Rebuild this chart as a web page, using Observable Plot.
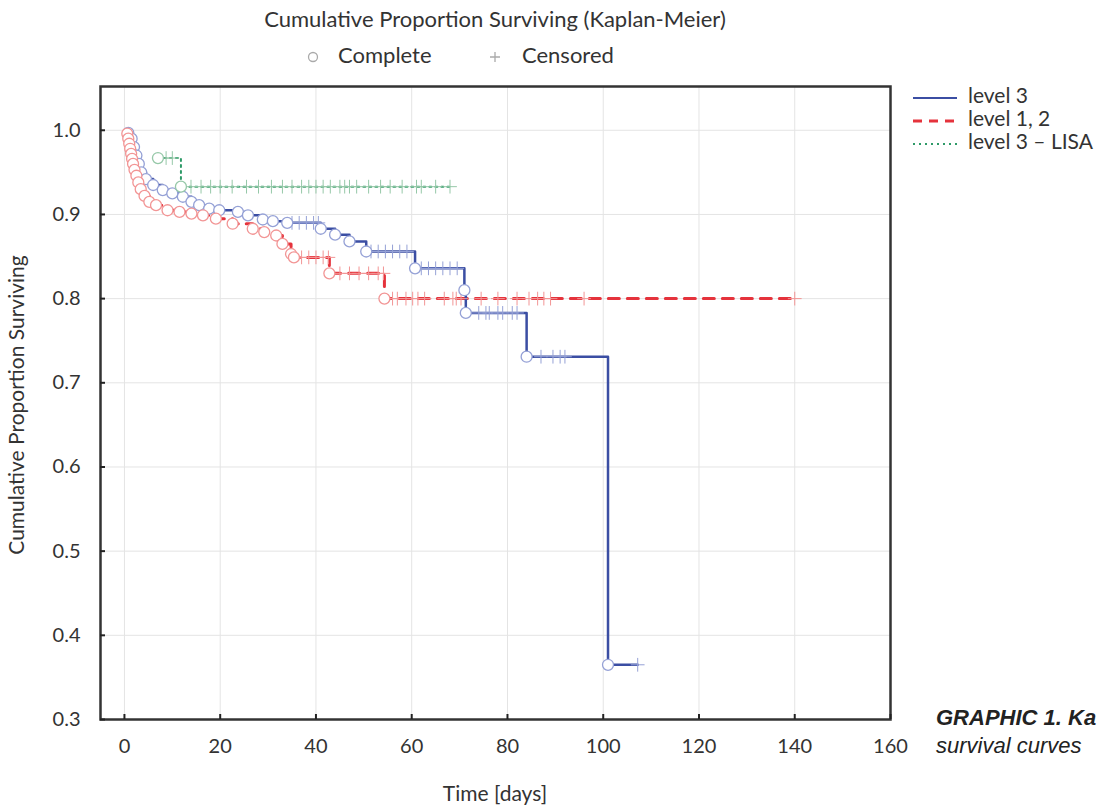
<!DOCTYPE html>
<html><head><meta charset="utf-8">
<script src="https://cdn.jsdelivr.net/npm/d3@7"></script>
<script src="https://cdn.jsdelivr.net/npm/@observablehq/plot@0.6"></script>
<style>
body{margin:0;background:#fff;}
#chart{position:relative;width:1097px;height:809px;overflow:hidden;}
</style></head><body><div id="chart"></div>
<script>
// ---- data ----
const xTicks = [0, 20, 40, 60, 80, 100, 120, 140, 160];
const yTicks = [0.3, 0.4, 0.5, 0.6, 0.7, 0.8, 0.9, 1.0];
const seriesNames = ["level 3", "level 1, 2", "level 3 \u2013 LISA"];

// level 3 (blue, solid): event times and survival after each event
const level3Time = [0.8, 1.5, 2, 2.5, 3, 3.5, 4.5, 6, 8, 10, 12.2, 14, 15.6, 17.7, 19.8, 23.7, 25.8, 28.9, 31, 34, 41, 44, 47, 50.5, 60.7, 71, 71.3, 84, 101];
const level3Surv = [0.997, 0.99, 0.98, 0.97, 0.96, 0.95, 0.942, 0.935, 0.929, 0.925, 0.921, 0.915, 0.911, 0.907, 0.905, 0.903, 0.899, 0.894, 0.892, 0.89, 0.883, 0.876, 0.868, 0.856, 0.836, 0.81, 0.783, 0.731, 0.365];
const level3Censored = [35, 36.5, 38, 39.5, 40.5, 51.5, 53, 54.5, 56, 57.5, 59, 62, 63.5, 65, 66.5, 68, 69.5, 74, 75.5, 76.2, 78, 79, 81, 82, 87, 89.5, 91, 92, 107.2];

// level 1, 2 (red, dashed)
const level12Time = [0.6, 0.8, 1.0, 1.2, 1.4, 1.6, 1.8, 2.1, 2.5, 2.9, 3.4, 4.2, 5.2, 6.6, 9, 11.5, 14, 16.4, 19.1, 22.6, 26.8, 29.2, 31.7, 33, 34.8, 35.4, 42.8, 54.3];
const level12Surv = [0.996, 0.99, 0.984, 0.978, 0.972, 0.966, 0.96, 0.953, 0.946, 0.938, 0.93, 0.922, 0.915, 0.911, 0.905, 0.903, 0.901, 0.899, 0.895, 0.889, 0.883, 0.879, 0.875, 0.865, 0.853, 0.849, 0.83, 0.8];
const level12Censored = [37, 38.5, 40, 41.5, 42.6, 45, 47, 49, 51, 53, 54.1, 56, 57, 58.8, 60.2, 61.3, 62.7, 66.8, 68.6, 69.3, 70.3, 74.5, 78, 82, 84.5, 86.3, 87.6, 89, 96, 140];

// level 3 – LISA (green, dotted)
const lisaTime = [7, 11.8];
const lisaSurv = [0.967, 0.933];
const lisaCensored = [8.7, 10, 13.9, 16, 18, 20, 22.5, 25.5, 28, 30.7, 33, 35, 37, 38.5, 40, 41.5, 43, 45, 46, 47, 48.5, 51, 53.5, 55.5, 58, 61, 62, 65, 68];

// ---- build tables ----
function build(name, times, survs, censored) {
  const end = Math.max(times[times.length - 1], d3.max(censored));
  const line = times.map((t, i) => ({series: name, t, s: survs[i]}));
  line.push({series: name, t: end, s: survs[survs.length - 1]});
  const events = times.map((t, i) => ({series: name, t, s: survs[i]}));
  const bis = d3.bisector(d => d).right;
  const cens = censored.map(c => {
    const i = bis(times, c) - 1;
    return {series: name, t: c, s: i >= 0 ? survs[i] : 1};
  });
  return {line, events, cens};
}
const S3 = build(seriesNames[0], level3Time, level3Surv, level3Censored);
const S12 = build(seriesNames[1], level12Time, level12Surv, level12Censored);
const SL = build(seriesNames[2], lisaTime, lisaSurv, lisaCensored);

const colors = {line: ["#3b4ea3", "#e5333c", "#2e9a68"], light: ["#95a1d6", "#f29595", "#96c8a8"]};

const W = 1097, H = 809, mL = 100, mR = 207, mT = 86, mB = 90;
const pw = W - mL - mR, ph = H - mT - mB;
const FONT = "Lato, 'Open Sans', sans-serif";

const chart = Plot.plot({
  width: W, height: H,
  marginLeft: mL, marginRight: mR, marginTop: mT, marginBottom: mB,
  style: {fontFamily: FONT, background: "#fff", overflow: "hidden"},
  x: {domain: [-5, 160]},
  y: {domain: [0.3, 1.052]},
  marks: [
    Plot.gridX(xTicks, {stroke: "#e4e4e4", strokeOpacity: 1}),
    Plot.gridY(yTicks, {stroke: "#e4e4e4", strokeOpacity: 1}),
    Plot.line(S12.line, {x: "t", y: "s", curve: "step-after", stroke: colors.line[1], strokeWidth: 3, strokeDasharray: "11,8"}),
    Plot.line(SL.line, {x: "t", y: "s", curve: "step-after", stroke: colors.line[2], strokeWidth: 2, strokeDasharray: "2,4"}),
    Plot.line(S3.line, {x: "t", y: "s", curve: "step-after", stroke: colors.line[0], strokeWidth: 2.5}),
    Plot.dot(S3.cens, {x: "t", y: "s", symbol: "plus", r: 4.5, stroke: colors.light[0], strokeWidth: 1}),
    Plot.dot(S12.cens, {x: "t", y: "s", symbol: "plus", r: 4.5, stroke: colors.light[1], strokeWidth: 1}),
    Plot.dot(SL.cens, {x: "t", y: "s", symbol: "plus", r: 4.5, stroke: colors.light[2], strokeWidth: 1}),
    Plot.dot(S3.events, {x: "t", y: "s", r: 5.5, stroke: colors.light[0], fill: "white", strokeWidth: 1.3}),
    Plot.dot(S12.events, {x: "t", y: "s", r: 5.5, stroke: colors.light[1], fill: "white", strokeWidth: 1.3}),
    Plot.dot(SL.events, {x: "t", y: "s", r: 5.5, stroke: colors.light[2], fill: "white", strokeWidth: 1.3}),
    Plot.frame({stroke: "#333", strokeWidth: 2.5}),
    Plot.tickX(xTicks, {x: d => d, insetTop: ph - 5, stroke: "#222", strokeWidth: 2}),
    Plot.tickY(yTicks, {y: d => d, insetRight: pw - 5, stroke: "#222", strokeWidth: 2}),
    Plot.axisX(xTicks, {tickSize: 0, tickPadding: 19, fontSize: 20, label: null, color: "#333"}),
    Plot.axisY(yTicks, {tickSize: 0, tickPadding: 20, fontSize: 20, label: null, color: "#333", tickFormat: d3.format(".1f")})
  ]
});
document.getElementById("chart").appendChild(chart);

// ---- annotations ----
const svg = d3.select(chart);
const g = svg.append("g").attr("font-family", FONT).attr("fill", "#333").attr("text-anchor", "start");
g.append("text").attr("x", 495).attr("y", 21).attr("text-anchor", "middle").attr("dominant-baseline", "middle")
  .attr("font-size", 22).text("Cumulative Proportion Surviving (Kaplan-Meier)");
g.append("circle").attr("cx", 313).attr("cy", 57).attr("r", 4.5).attr("fill", "white").attr("stroke", "#aaa").attr("stroke-width", 1.3);
g.append("text").attr("x", 338).attr("y", 57).attr("dominant-baseline", "middle").attr("font-size", 22).text("Complete");
g.append("path").attr("d", "M490,57h10M495,52v10").attr("fill", "none").attr("stroke", "#aaa").attr("stroke-width", 1.3);
g.append("text").attr("x", 522).attr("y", 57).attr("dominant-baseline", "middle").attr("font-size", 22).text("Censored");

g.append("text").attr("transform", "translate(19,405) rotate(-90)").attr("text-anchor", "middle").attr("dominant-baseline", "middle")
  .attr("font-size", 21).text("Cumulative Proportion Surviving");
g.append("text").attr("x", 495).attr("y", 796).attr("text-anchor", "middle").attr("dominant-baseline", "middle")
  .attr("font-size", 21).text("Time [days]");

// right legend
const legY = [98, 121, 144];
const dashes = [null, "9,7", "2,4"];
const widths = [2, 3, 2];
seriesNames.forEach((name, i) => {
  const l = g.append("line").attr("x1", 913).attr("x2", 957).attr("y1", legY[i]).attr("y2", legY[i])
    .attr("stroke", colors.line[i]).attr("stroke-width", widths[i]);
  if (dashes[i]) l.attr("stroke-dasharray", dashes[i]);
  g.append("text").attr("x", 968).attr("y", legY[i]).attr("dominant-baseline", "middle").attr("font-size", 21).text(name);
});

// caption (as much as the source page shows)
const cap = svg.append("g").attr("font-family", "'Liberation Sans', Arial, sans-serif").attr("fill", "#222")
  .attr("font-style", "italic").attr("text-anchor", "start");
cap.append("text").attr("x", 936).attr("y", 719).attr("dominant-baseline", "middle").attr("font-size", 22).attr("font-weight", "bold").text("GRAPHIC 1. Ka");
cap.append("text").attr("x", 936).attr("y", 747).attr("dominant-baseline", "middle").attr("font-size", 22).text("survival curves");
</script></body></html>
